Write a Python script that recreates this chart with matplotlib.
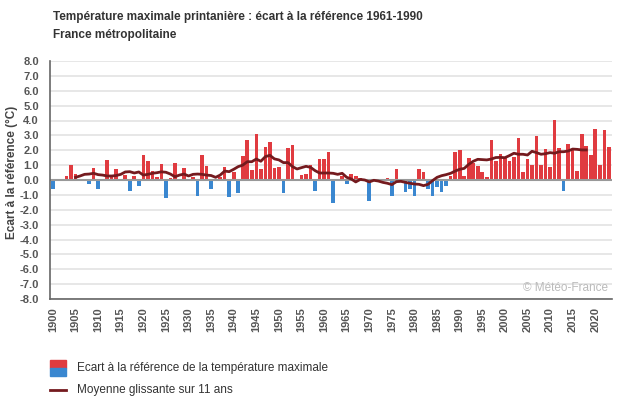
import numpy as np
import matplotlib
matplotlib.use('Agg')
import matplotlib.pyplot as plt
from matplotlib.patches import Rectangle

plt.rcParams['font.family'] = ['Liberation Sans', 'DejaVu Sans']

# anomalies 1900-2023 (°C)
years = np.arange(1900, 2024)
ecart = [
    -0.60, 0.10, 0.00, 0.27, 1.00, 0.40, 0.00, 0.10, -0.25, 0.80,   # 1900
    -0.60, 0.07, 1.35, 0.27, 0.75, 0.00, 0.35, -0.72, 0.27, -0.38,  # 1910
    1.70, 1.28, 0.60, 0.20, 1.07, -1.20, 0.13, 1.15, -0.10, 0.80,   # 1920
    0.00, 0.20, -1.07, 1.70, 0.95, -0.60, 0.10, 0.20, 0.87, -1.12,  # 1930
    0.55, -0.85, 1.62, 2.70, 0.67, 3.10, 0.75, 2.22, 2.56, 0.80,    # 1940
    0.87, -0.85, 2.15, 2.35, 0.07, 0.33, 0.40, 1.00, -0.75, 1.40,   # 1950
    1.40, 1.88, -1.52, 0.00, 0.27, -0.27, 0.40, 0.27, 0.13, 0.05,   # 1960
    -1.40, 0.00, 0.00, 0.00, 0.13, -1.07, 0.75, 0.00, -0.78, -0.60, # 1970
    -1.07, 0.75, 0.55, -0.60, -1.07, -0.45, -0.78, -0.40, 0.27, 1.88,  # 1980
    2.00, 0.27, 1.48, 1.15, 0.95, 0.55, 0.20, 2.70, 1.28, 1.75,     # 1990
    1.45, 1.28, 1.55, 2.82, 0.54, 1.41, 1.00, 2.96, 1.00, 2.08,     # 2000
    0.87, 4.03, 2.15, -0.72, 2.42, 2.08, 0.60, 3.10, 2.29, 1.68,    # 2010
    3.43, 1.00, 3.37, 2.22,                                         # 2020
]

# 11-year moving average 1905-2018
moy_years = np.arange(1905, 2019)
moyenne = [
    0.18, 0.27, 0.38, 0.40, 0.45,                                   # 1905
    0.36, 0.33, 0.27, 0.27, 0.30, 0.38, 0.54, 0.56, 0.47, 0.54,     # 1910
    0.33, 0.38, 0.45, 0.49, 0.55, 0.52, 0.40, 0.22, 0.33, 0.40,     # 1920
    0.27, 0.38, 0.40, 0.38, 0.33, 0.30, 0.18, 0.33, 0.60, 0.56,     # 1930
    0.72, 0.90, 1.00, 1.23, 1.23, 1.41, 1.26, 1.57, 1.66, 1.42,     # 1940
    1.35, 1.17, 1.17, 0.90, 0.74, 0.83, 0.92, 0.85, 0.63, 0.47,     # 1950
    0.47, 0.47, 0.45, 0.38, 0.45, 0.18, 0.07, -0.13, 0.04, 0.00,    # 1960
    -0.13, -0.02, -0.07, -0.16, -0.22, -0.31, -0.11, -0.09, -0.16, -0.22,  # 1970
    -0.27, -0.29, -0.38, -0.29, -0.04, 0.18, 0.29, 0.36, 0.45, 0.60,       # 1980
    0.72, 0.78, 1.05, 1.26, 1.39, 1.37, 1.35, 1.41, 1.51, 1.52,     # 1990
    1.50, 1.64, 1.80, 1.73, 1.73, 1.68, 1.93, 1.84, 1.73, 1.77,     # 2000
    1.84, 1.80, 1.90, 1.90, 1.95, 2.08, 2.06, 2.02, 2.02,           # 2010
]

rouge = '#e03b40'
bleu = '#3a87d0'
trait = '#741a1e'
gris = '#555555'

fig = plt.figure(figsize=(6.3, 4.05), dpi=100)
ax = fig.add_axes([50/630, 1 - 299/405, 562/630, 238/405])

ecart = np.array(ecart)
couleurs = [rouge if v >= 0 else bleu for v in ecart]
ax.bar(years, ecart, width=0.8, color=couleurs, zorder=2)
ax.plot(moy_years, moyenne, color=trait, lw=2, zorder=3)
ax.axhline(0, color='#999999', lw=1.5, zorder=2.5)

ax.set_xlim(1899.35, 2023.7)
ax.set_ylim(-8, 8)
ax.set_yticks(np.arange(-8, 9, 1))
ax.set_yticklabels([f'{v:.1f}' for v in np.arange(-8, 9, 1)])
ax.set_xticks(np.arange(1900, 2021, 5))
ax.tick_params(axis='x', labelrotation=90, length=0, pad=6)
ax.tick_params(axis='y', length=0, pad=8)
for lab in ax.get_xticklabels() + ax.get_yticklabels():
    lab.set_fontweight('bold')
    lab.set_fontsize(8)
    lab.set_color(gris)
ax.grid(axis='y', color='#e3e3e3', lw=1.2, zorder=0)
for s in ['top', 'right']:
    ax.spines[s].set_visible(False)
ax.spines['left'].set_color('#666666')
ax.spines['bottom'].set_color('#666666')
ax.spines['left'].set_linewidth(1.2)
ax.spines['bottom'].set_linewidth(1.2)
ax.set_ylabel('Ecart à la référence (°C)', fontsize=8.5, fontweight='bold',
              color='#444444')
ax.yaxis.set_label_coords(-0.057, 0.53)

ax.text(0.992, 0.045, '© Météo-France', transform=ax.transAxes, ha='right',
        va='center', fontsize=8.5, color='#bbbbbb')

fig.text(53/630, 1 - 17/405, 'Température maximale printanière : écart à la référence 1961-1990',
         fontsize=8.5, fontweight='bold', color='#333333', va='center')
fig.text(53/630, 1 - 35/405, 'France métropolitaine',
         fontsize=8.5, fontweight='bold', color='#333333', va='center')

# legend
fig.patches.append(Rectangle((50/630, 1 - 368/405), 16/630, 8/405,
                             transform=fig.transFigure, color=rouge))
fig.patches.append(Rectangle((50/630, 1 - 376/405), 16/630, 8/405,
                             transform=fig.transFigure, color=bleu))
fig.text(77/630, 1 - 368/405, 'Ecart à la référence de la température maximale',
         fontsize=8.5, color='#333333', va='center')
fig.lines.append(plt.Line2D([50/630, 66/630], [1 - 390/405, 1 - 390/405],
                            transform=fig.transFigure, color=trait, lw=2))
fig.text(77/630, 1 - 390/405, 'Moyenne glissante sur 11 ans',
         fontsize=8.5, color='#333333', va='center')

fig.savefig('out.png', dpi=100)
